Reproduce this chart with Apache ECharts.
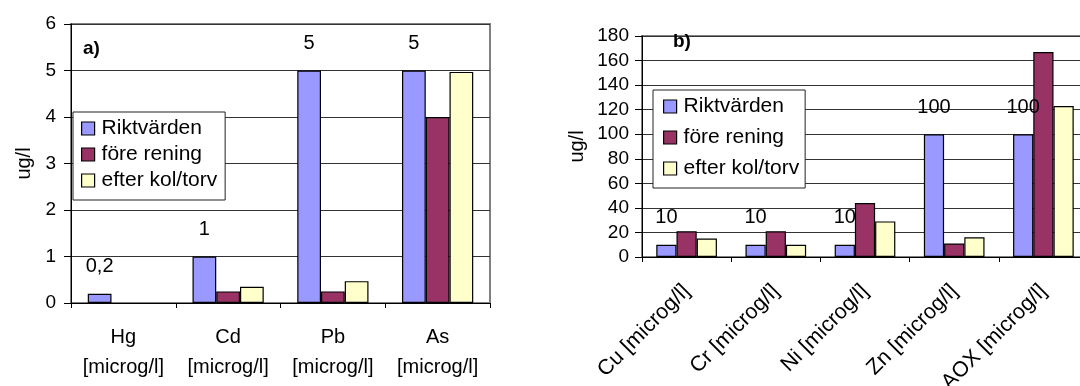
<!DOCTYPE html>
<html>
<head>
<meta charset="utf-8">
<script src="https://cdn.jsdelivr.net/npm/echarts@6/dist/echarts.min.js"></script>
<style>
  html, body { margin: 0; padding: 0; background: #fff; }
  #chart { width: 1080px; height: 386px; }
</style>
</head>
<body>
<div id="chart"></div>
<script>
// Metals, panel a)
const catsA = ['Hg\n[microg/l]', 'Cd\n[microg/l]', 'Pb\n[microg/l]', 'As\n[microg/l]'];
const riktA = [0.2, 1, 5, 5];
const foreA = [null, 0.25, 0.25, 4];
const efterA = [null, 0.35, 0.47, 4.97];

// Metals and AOX, panel b)
const catsB = ['Cu [microg/l]', 'Cr [microg/l]', 'Ni [microg/l]', 'Zn [microg/l]', 'AOX [microg/l]'];
const riktB = [10, 10, 10, 100, 100];
const foreB = [21, 21, 44, 11, 167];
const efterB = [15, 10, 29, 16, 123];

const seriesNames = ['Riktvärden', 'före rening', 'efter kol/torv'];
const colors = ['#9999FF', '#993366', '#FFFFCC'];

const FONT = '"Liberation Sans", Arial, sans-serif';
const chart = echarts.init(document.getElementById('chart'), null, { renderer: 'canvas' });

function valueLabel() {
  return {
    show: true, position: 'top', distance: 17, fontSize: 20, color: '#000',
    fontFamily: FONT,
    formatter: p => String(p.value).replace('.', ',')
  };
}

function bars(values, idx, axisIdx, withLabel) {
  return {
    type: 'bar', name: seriesNames[idx], data: values,
    xAxisIndex: axisIdx, yAxisIndex: axisIdx,
    barGap: '0%', barCategoryGap: '32%',
    itemStyle: { color: colors[idx], borderColor: '#000', borderWidth: 1.2 },
    label: withLabel ? valueLabel() : { show: false },
    z: 3
  };
}

function legendAt(left, top, gap, pad) {
  return {
    orient: 'vertical', left: left, top: top, padding: pad, itemGap: gap,
    itemWidth: 13, itemHeight: 13, icon: 'rect',
    backgroundColor: '#fff', borderColor: '#222', borderWidth: 1,
    selectedMode: false,
    data: seriesNames,
    textStyle: { fontSize: 21, color: '#000', fontFamily: FONT, padding: [0, 0, 0, 2] },
    itemStyle: { borderColor: '#000', borderWidth: 1.2 }
  };
}

function yAxis(idx, max, step, gap, labelMargin) {
  return {
    gridIndex: idx, type: 'value', min: 0, max: max, interval: step,
    name: 'ug/l', nameLocation: 'middle', nameGap: gap,
    nameTextStyle: { fontSize: 20, color: '#000', fontFamily: FONT },
    axisLine: { show: true, lineStyle: { color: '#000', width: 1 } },
    axisTick: { show: true, length: 7, lineStyle: { color: '#000' } },
    axisLabel: { fontSize: 19, color: '#000', margin: labelMargin, fontFamily: FONT },
    splitLine: { show: true, lineStyle: { color: '#333', width: 1 } }
  };
}

const option = {
  animation: false,
  backgroundColor: '#fff',
  textStyle: { fontFamily: FONT },
  title: [
    { text: 'a)', left: 83, top: 39, padding: 0,
      textStyle: { fontSize: 19, fontWeight: 'bold', color: '#000', fontFamily: FONT } },
    { text: 'b)', left: 673, top: 32, padding: 0,
      textStyle: { fontSize: 19, fontWeight: 'bold', color: '#000', fontFamily: FONT } }
  ],
  legend: [
    legendAt(73, 112, 5, [6, 8, 9, 8]),
    legendAt(653, 90, 10, [6, 6, 9, 10])
  ],
  grid: [
    { left: 71, top: 24, width: 419, height: 279, show: true, outerBoundsMode: 'none',
      borderColor: '#808080', borderWidth: 2, backgroundColor: 'transparent' },
    { left: 642, top: 36, width: 446, height: 221, show: true, outerBoundsMode: 'none',
      borderColor: '#808080', borderWidth: 2, backgroundColor: 'transparent' }
  ],
  xAxis: [
    { gridIndex: 0, type: 'category', data: catsA,
      axisLine: { lineStyle: { color: '#000', width: 1 } },
      axisTick: { show: true, length: 5, lineStyle: { color: '#000' } },
      axisLabel: { interval: 0, fontSize: 20, lineHeight: 30, margin: 19, color: '#000', fontFamily: FONT } },
    { gridIndex: 1, type: 'category', data: catsB,
      axisLine: { lineStyle: { color: '#000', width: 1 } },
      axisTick: { show: true, length: 5, lineStyle: { color: '#000' } },
      axisLabel: { interval: 0, rotate: 45, fontSize: 21.5, margin: 31, color: '#000', fontFamily: FONT } }
  ],
  yAxis: [
    yAxis(0, 6, 1, 37, 15),
    yAxis(1, 180, 20, 55, 13)
  ],
  series: [
    bars(riktA, 0, 0, true),
    bars(foreA, 1, 0, false),
    bars(efterA, 2, 0, false),
    bars(riktB, 0, 1, true),
    bars(foreB, 1, 1, false),
    bars(efterB, 2, 1, false)
  ]
};

chart.setOption(option);
</script>
</body>
</html>
